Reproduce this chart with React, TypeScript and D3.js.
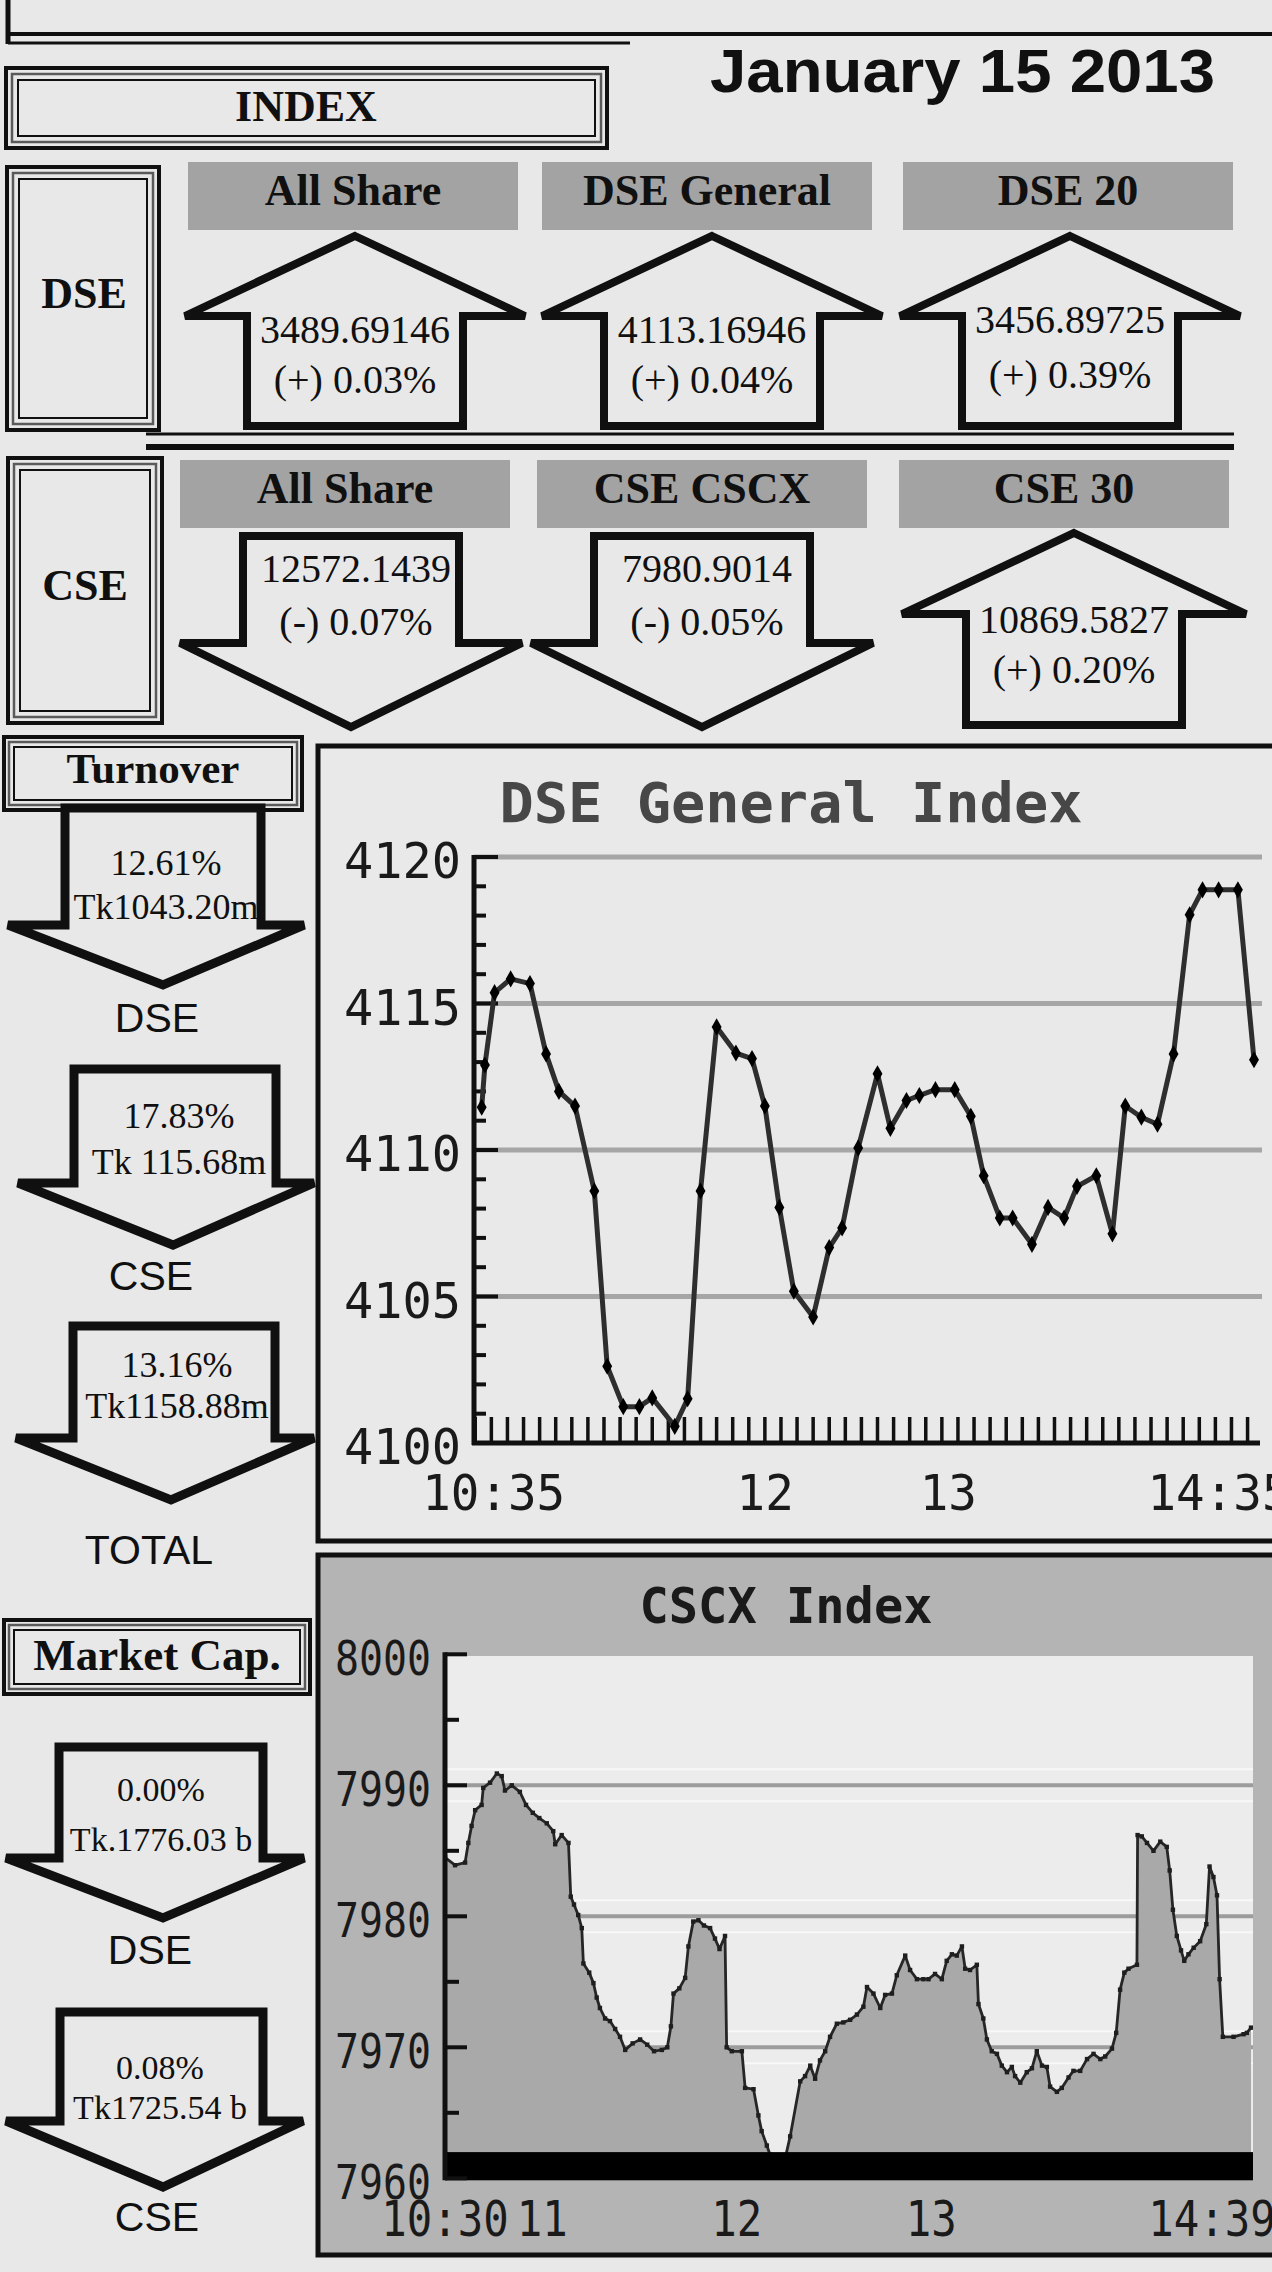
import React from "react";
import * as d3 from "d3";

const W = 1272;
const H = 2272;

// ---------------- data ----------------
const reportDate = "January 15 2013";

const dseIndexNames = ["All Share", "DSE General", "DSE 20"];
const dseIndexValues = ["3489.69146", "4113.16946", "3456.89725"];
const dseIndexChanges = ["(+) 0.03%", "(+) 0.04%", "(+) 0.39%"];
const dseIndexDirections = ["up", "up", "up"];

const cseIndexNames = ["All Share", "CSE CSCX", "CSE 30"];
const cseIndexValues = ["12572.1439", "7980.9014", "10869.5827"];
const cseIndexChanges = ["(-) 0.07%", "(-) 0.05%", "(+) 0.20%"];
const cseIndexDirections = ["down", "down", "up"];

const turnoverLabels = ["DSE", "CSE", "TOTAL"];
const turnoverPercents = ["12.61%", "17.83%", "13.16%"];
const turnoverAmounts = ["Tk1043.20m", "Tk 115.68m", "Tk1158.88m"];

const marketCapLabels = ["DSE", "CSE"];
const marketCapPercents = ["0.00%", "0.08%"];
const marketCapAmounts = ["Tk.1776.03 b", "Tk1725.54 b"];

// DSE General Index intraday (minutes since midnight, index value)
const dseTimes = [635, 636, 639, 644, 650, 655, 659, 664, 670, 674, 679, 684, 688, 695, 699, 703, 708, 714, 719, 723, 727.5, 732, 738, 743, 747, 752, 758, 762, 767, 771, 776, 782, 787, 791, 796, 800, 806, 811, 816, 820, 826, 831, 835, 840, 845, 850, 855, 859, 864, 870, 875];
const dseValues = [4111.46, 4112.9, 4115.37, 4115.84, 4115.68, 4113.28, 4112.0, 4111.5, 4108.6, 4102.62, 4101.24, 4101.24, 4101.54, 4100.57, 4101.51, 4108.6, 4114.2, 4113.31, 4113.12, 4111.5, 4108.04, 4105.18, 4104.3, 4106.67, 4107.34, 4110.07, 4112.6, 4110.74, 4111.69, 4111.86, 4112.06, 4112.06, 4111.15, 4109.12, 4107.68, 4107.68, 4106.78, 4108.04, 4107.68, 4108.76, 4109.12, 4107.14, 4111.5, 4111.12, 4110.88, 4113.28, 4118.03, 4118.88, 4118.88, 4118.88, 4113.08];
const dseYTicks = [4100, 4105, 4110, 4115, 4120];
const dseXTickTimes = [635, 720, 780, 875];
const dseXTickLabels = ["10:35", "12", "13", "14:35"];

// CSCX intraday (minutes after 10:30, index value)
const cscxMinutes = [0, 3.1, 6.2, 7.2, 8.2, 9.3, 11.3, 11.8, 13.9, 16.0, 17.5, 18.5, 20.6, 23.1, 25.0, 27.1, 29.1, 31.4, 33.4, 34.0, 36.0, 38.1, 38.8, 39.8, 41.1, 42.2, 42.7, 44.5, 45.8, 46.8, 47.8, 49.4, 50.9, 52.5, 54.0, 55.6, 57.9, 60.2, 62.4, 64.5, 66.9, 68.6, 69.7, 70.5, 72.3, 74.1, 75.1, 76.6, 78.2, 79.9, 81.8, 83.3, 84.7, 86.4, 86.9, 88.5, 91.6, 92.6, 95.2, 96.7, 97.7, 99.3, 100.3, 102.2, 104.3, 106.5, 109.6, 111.1, 112.7, 114.2, 115.7, 117.3, 118.8, 120.9, 122.9, 125.0, 127.1, 129.1, 130.2, 132.2, 134.3, 135.8, 137.9, 139.4, 142.0, 143.5, 145.6, 147.6, 149.2, 151.2, 153.3, 154.8, 156.4, 157.9, 159.5, 160.5, 162.0, 164.1, 164.6, 166.1, 167.2, 168.7, 170.3, 171.8, 173.4, 174.9, 175.9, 177.5, 179.5, 181.1, 182.6, 184.2, 185.7, 186.7, 188.8, 190.3, 192.4, 193.9, 196.0, 198.1, 200.1, 202.2, 203.7, 205.8, 207.1, 208.3, 209.6, 210.9, 213.5, 213.7, 215.0, 216.6, 218.6, 220.7, 222.7, 223.6, 224.6, 225.8, 227.1, 228.1, 229.4, 231.0, 233.0, 234.9, 235.9, 237.1, 238.2, 239.0, 240.0, 243.3, 246.4, 247.4, 248.7];
const cscxValues = [7984.5, 7983.9, 7984.1, 7985.6, 7986.9, 7988.1, 7988.5, 7989.8, 7990.2, 7990.9, 7990.7, 7989.6, 7990.0, 7989.5, 7988.5, 7987.9, 7987.5, 7987.1, 7986.5, 7985.5, 7986.2, 7985.6, 7981.5, 7980.9, 7980.1, 7979.1, 7976.4, 7975.7, 7974.9, 7973.8, 7973.0, 7972.2, 7972.0, 7971.4, 7970.8, 7969.8, 7970.3, 7970.6, 7970.2, 7969.7, 7969.8, 7970.0, 7971.6, 7974.1, 7974.5, 7975.3, 7977.7, 7979.6, 7979.7, 7979.3, 7979.1, 7978.3, 7977.5, 7978.5, 7970.0, 7969.7, 7969.7, 7966.9, 7966.8, 7964.8, 7963.6, 7962.5, 7961.8, 7960.6, 7960.8, 7963.2, 7967.4, 7967.8, 7968.6, 7967.6, 7969.0, 7969.7, 7970.8, 7971.8, 7971.9, 7972.1, 7972.5, 7973.1, 7974.6, 7974.1, 7973.0, 7974.0, 7974.1, 7975.5, 7977.0, 7975.9, 7975.2, 7975.2, 7975.2, 7975.6, 7975.2, 7976.6, 7977.1, 7977.0, 7977.7, 7976.0, 7975.9, 7976.3, 7973.3, 7972.2, 7970.6, 7969.7, 7969.5, 7968.6, 7968.1, 7968.5, 7967.8, 7967.3, 7968.1, 7968.4, 7969.7, 7968.6, 7968.5, 7967.0, 7966.6, 7966.9, 7967.7, 7968.2, 7968.2, 7969.1, 7969.5, 7969.1, 7969.3, 7969.9, 7971.1, 7974.4, 7975.7, 7976.0, 7976.3, 7986.2, 7986.1, 7985.6, 7985.0, 7985.7, 7985.3, 7983.5, 7980.5, 7978.5, 7977.4, 7976.6, 7977.1, 7977.6, 7978.1, 7979.4, 7983.8, 7983.0, 7981.6, 7975.2, 7970.8, 7970.8, 7971.0, 7971.1, 7971.5];
const cscxOpenMinute = 630;
const cscxYTicks = [7960, 7970, 7980, 7990, 8000];
const cscxXTickTimes = [630, 660, 720, 780, 879];
const cscxXTickLabels = ["10:30", "11", "12", "13", "14:39"];

// ---------------- styles ----------------
const SERIF = "'Liberation Serif', 'Times New Roman', serif";
const SANS = "'Liberation Sans', Arial, sans-serif";
const MONO = "'DejaVu Sans Mono', monospace";
const BG = "#e8e8e8";
const INK = "#101010";
const HEADER_GRAY = "#a3a3a3";

function TripleBox({ x, y, w, h, k = 1 }: any) {
  return (
    <g fill="none">
      <rect x={x} y={y} width={w} height={h} stroke={INK} strokeWidth={4} />
      <rect x={x + 5 * k} y={y + 5 * k} width={w - 10 * k} height={h - 10 * k} stroke="#5a5a5a" strokeWidth={2.5} />
      <rect x={x + 10 * k} y={y + 10 * k} width={w - 20 * k} height={h - 20 * k} stroke={INK} strokeWidth={2} />
    </g>
  );
}

const lineGen = d3.line();
function upArrow(cx: number, apexY: number, wingY: number, bottomY: number, sh: number, wh: number) {
  return (
    lineGen([
      [cx, apexY],
      [cx + wh, wingY],
      [cx + sh, wingY],
      [cx + sh, bottomY],
      [cx - sh, bottomY],
      [cx - sh, wingY],
      [cx - wh, wingY],
    ]) + "Z"
  );
}
function downArrow(sl: number, sr: number, top: number, headY: number, wl: number, wr: number, tipX: number, tipY: number) {
  return (
    lineGen([
      [sl, top],
      [sr, top],
      [sr, headY],
      [wr, headY],
      [tipX, tipY],
      [wl, headY],
      [sl, headY],
    ]) + "Z"
  );
}

// layout of the index arrows
const dseArrowCx = [355, 712, 1070];
const dseCellX = [188, 542, 903];
const cseArrowCx = [351, 702, 1074];
const cseCellX = [180, 537, 899];
const cellW = 330;

const turnoverGeom = [
  { sl: 65, sr: 261, top: 808, headY: 925, wl: 8, wr: 304, tipX: 163, tipY: 985, t1: 875, t2: 919, tx: 166, lx: 157, ly: 1032 },
  { sl: 74, sr: 276, top: 1069, headY: 1183, wl: 18, wr: 314, tipX: 173, tipY: 1245, t1: 1128, t2: 1174, tx: 179, lx: 151, ly: 1290 },
  { sl: 73, sr: 275, top: 1326, headY: 1438, wl: 16, wr: 314, tipX: 171, tipY: 1500, t1: 1377, t2: 1418, tx: 177, lx: 149, ly: 1564 },
];
const marketCapGeom = [
  { sl: 59, sr: 263, top: 1747, headY: 1858, wl: 6, wr: 304, tipX: 163, tipY: 1918, t1: 1801, t2: 1851, tx: 161, lx: 150, ly: 1964 },
  { sl: 60, sr: 263, top: 2012, headY: 2121, wl: 6, wr: 303, tipX: 163, tipY: 2187, t1: 2079, t2: 2119, tx: 160, lx: 157, ly: 2231 },
];

export default function App() {
  // DSE chart scales
  const dseX = d3.scaleLinear().domain([635, 875]).range([481.7, 1254]);
  const dseY = d3.scaleLinear().domain([4100, 4120]).range([1443, 857]);
  const dsePts = dseTimes.map((t, i) => [dseX(t), dseY(dseValues[i])] as [number, number]);
  const dsePath = d3.line()(dsePts) as string;
  const diamond = d3.symbol(d3.symbolDiamond, 85)() as string;
  const dseMinorY = d3.range(4100, 4121, 1);
  const dseMinorX = d3.range(633, 876, 5);
  const dseLabelDx = [12, 10, 0, -35];

  // CSCX chart scales
  const csX = d3.scaleLinear().domain([630, 879]).range([445, 1252]);
  const csY = d3.scaleLinear().domain([7960, 8000]).range([2178.3, 1654.3]);
  const csData = cscxMinutes.map((m, i) => ({ t: cscxOpenMinute + m, v: cscxValues[i] }));
  const csArea = d3
    .area<any>()
    .x((d) => csX(d.t))
    .y0(csY(7960))
    .y1((d) => csY(d.v))(csData) as string;
  const csLine = d3
    .line<any>()
    .x((d) => csX(d.t))
    .y((d) => csY(d.v))(csData) as string;
  const csMinorY = d3.range(7960, 8001, 5);
  const csLabelDx = [0, 0, 0, 0, -40];

  return (
    <svg
      width={W}
      height={H}
      viewBox={`0 0 ${W} ${H}`}
      style={{ position: "absolute", left: 0, top: 0, display: "block" }}
    >
      <rect x={0} y={0} width={W} height={H} fill={BG} />

      {/* top frame lines */}
      <line x1={8} y1={0} x2={8} y2={44} stroke={INK} strokeWidth={5} />
      <line x1={8} y1={34} x2={W} y2={34} stroke={INK} strokeWidth={4} />
      <line x1={8} y1={43} x2={630} y2={43} stroke={INK} strokeWidth={3} />

      <text x={710} y={92} fontFamily={SANS} fontWeight="bold" fontSize={62} fill={INK} textLength={505} lengthAdjust="spacingAndGlyphs">
        {reportDate}
      </text>

      {/* INDEX box */}
      <TripleBox x={6} y={68} w={601} h={80} k={1.2} />
      <text x={306} y={121} textAnchor="middle" fontFamily={SERIF} fontWeight="bold" fontSize={44} fill={INK}>INDEX</text>

      {/* DSE row */}
      <TripleBox x={7} y={167} w={152} h={263} k={1.2} />
      <text x={84} y={308} textAnchor="middle" fontFamily={SERIF} fontWeight="bold" fontSize={44} fill={INK}>DSE</text>
      {dseIndexNames.map((name, i) => (
        <g key={"dh" + i}>
          <rect x={dseCellX[i]} y={162} width={cellW} height={68} fill={HEADER_GRAY} />
          <text x={dseCellX[i] + cellW / 2} y={205} textAnchor="middle" fontFamily={SERIF} fontWeight="bold" fontSize={44} fill={INK}>{name}</text>
        </g>
      ))}
      {dseIndexValues.map((val, i) => {
        const cx = dseArrowCx[i];
        const up = dseIndexDirections[i] === "up";
        const l1 = i === 2 ? 333 : 343;
        const l2 = i === 2 ? 388 : 393;
        return (
          <g key={"da" + i}>
            <path
              d={up ? upArrow(cx, 236, 316, 426, 108, 170) : downArrow(cx - 108, cx + 108, 236, 346, cx - 170, cx + 170, cx, 426)}
              fill="none" stroke={INK} strokeWidth={8} strokeLinejoin="miter" strokeMiterlimit={2}
            />
            <text x={cx} y={l1} textAnchor="middle" fontFamily={SERIF} fontSize={40} fill={INK}>{val}</text>
            <text x={cx} y={l2} textAnchor="middle" fontFamily={SERIF} fontSize={40} fill={INK}>{dseIndexChanges[i]}</text>
          </g>
        );
      })}

      {/* separator */}
      <line x1={146} y1={434} x2={1234} y2={434} stroke={INK} strokeWidth={3} />
      <line x1={146} y1={447} x2={1234} y2={447} stroke={INK} strokeWidth={6} />

      {/* CSE row */}
      <TripleBox x={8} y={458} w={154} h={265} k={1.2} />
      <text x={85} y={600} textAnchor="middle" fontFamily={SERIF} fontWeight="bold" fontSize={44} fill={INK}>CSE</text>
      {cseIndexNames.map((name, i) => (
        <g key={"ch" + i}>
          <rect x={cseCellX[i]} y={460} width={cellW} height={68} fill={HEADER_GRAY} />
          <text x={cseCellX[i] + cellW / 2} y={503} textAnchor="middle" fontFamily={SERIF} fontWeight="bold" fontSize={44} fill={INK}>{name}</text>
        </g>
      ))}
      {cseIndexValues.map((val, i) => {
        const cx = cseArrowCx[i];
        const up = cseIndexDirections[i] === "up";
        const l1 = up ? 633 : 582;
        const l2 = up ? 683 : 635;
        return (
          <g key={"ca" + i}>
            <path
              d={up ? upArrow(cx, 533, 614, 725, 108, 172) : downArrow(cx - 108, cx + 108, 536, 643, cx - 171, cx + 171, cx, 727)}
              fill="none" stroke={INK} strokeWidth={8} strokeLinejoin="miter" strokeMiterlimit={2}
            />
            <text x={cx + (up ? 0 : 5)} y={l1} textAnchor="middle" fontFamily={SERIF} fontSize={40} fill={INK}>{val}</text>
            <text x={cx + (up ? 0 : 5)} y={l2} textAnchor="middle" fontFamily={SERIF} fontSize={40} fill={INK}>{cseIndexChanges[i]}</text>
          </g>
        );
      })}

      {/* Turnover */}
      <TripleBox x={4} y={737} w={298} h={73} />
      <text x={153} y={783} textAnchor="middle" fontFamily={SERIF} fontWeight="bold" fontSize={43} fill={INK}>Turnover</text>
      {turnoverLabels.map((lab, i) => {
        const g = turnoverGeom[i];
        return (
          <g key={"to" + i}>
            <path d={downArrow(g.sl, g.sr, g.top, g.headY, g.wl, g.wr, g.tipX, g.tipY)} fill="none" stroke={INK} strokeWidth={9} strokeLinejoin="miter" strokeMiterlimit={2} />
            <text x={g.tx} y={g.t1} textAnchor="middle" fontFamily={SERIF} fontSize={36} fill={INK}>{turnoverPercents[i]}</text>
            <text x={g.tx} y={g.t2} textAnchor="middle" fontFamily={SERIF} fontSize={36} fill={INK}>{turnoverAmounts[i]}</text>
            <text x={g.lx} y={g.ly} textAnchor="middle" fontFamily={SANS} fontSize={41} fill={INK}>{lab}</text>
          </g>
        );
      })}

      {/* Market Cap */}
      <TripleBox x={4} y={1620} w={306} h={74} />
      <text x={157} y={1670} textAnchor="middle" fontFamily={SERIF} fontWeight="bold" fontSize={45} fill={INK}>Market Cap.</text>
      {marketCapLabels.map((lab, i) => {
        const g = marketCapGeom[i];
        return (
          <g key={"mc" + i}>
            <path d={downArrow(g.sl, g.sr, g.top, g.headY, g.wl, g.wr, g.tipX, g.tipY)} fill="none" stroke={INK} strokeWidth={9} strokeLinejoin="miter" strokeMiterlimit={2} />
            <text x={g.tx} y={g.t1} textAnchor="middle" fontFamily={SERIF} fontSize={34} fill={INK}>{marketCapPercents[i]}</text>
            <text x={g.tx} y={g.t2} textAnchor="middle" fontFamily={SERIF} fontSize={34} fill={INK}>{marketCapAmounts[i]}</text>
            <text x={g.lx} y={g.ly} textAnchor="middle" fontFamily={SANS} fontSize={41} fill={INK}>{lab}</text>
          </g>
        );
      })}

      {/* ---------- DSE General Index panel ---------- */}
      <rect x={318} y={746} width={1000} height={795} fill="#e9e9e9" stroke={INK} strokeWidth={5} />
      <text x={791} y={822} textAnchor="middle" fontFamily={MONO} fontWeight="bold" fontSize={55} fill="#474747" textLength={583} lengthAdjust="spacingAndGlyphs">
        DSE General Index
      </text>
      {dseYTicks.filter((v) => v > 4100).map((v) => (
        <line key={"dg" + v} x1={dseX.range()[0] - 8} x2={1262} y1={dseY(v)} y2={dseY(v)} stroke="#a6a6a6" strokeWidth={5} />
      ))}
      {/* y axis */}
      <line x1={474} x2={474} y1={dseY(4120) - 2} y2={dseY(4100) + 2} stroke={INK} strokeWidth={5} />
      {dseMinorY.map((v) => (
        <line key={"dmy" + v} x1={474} x2={v % 5 === 0 ? 498 : 486} y1={dseY(v)} y2={dseY(v)} stroke={INK} strokeWidth={4} />
      ))}
      {/* x axis */}
      <line x1={472} x2={1260} y1={dseY(4100)} y2={dseY(4100)} stroke={INK} strokeWidth={5} />
      {dseMinorX.map((t) => (
        <line key={"dmx" + t} x1={dseX(t)} x2={dseX(t)} y1={dseY(4100)} y2={dseY(4100) - 26} stroke={INK} strokeWidth={3.5} />
      ))}
      <path d={dsePath} fill="none" stroke="#2e2e2e" strokeWidth={5} strokeLinejoin="round" />
      {dsePts.map((p, i) => (
        <path key={"dm" + i} d={diamond} transform={`translate(${p[0]},${p[1]})`} fill="#000" />
      ))}
      {dseYTicks.map((v) => (
        <text key={"dyl" + v} x={461} y={dseY(v) + 21} textAnchor="end" fontFamily={MONO} fontSize={50} fill="#1a1a1a" textLength={117} lengthAdjust="spacingAndGlyphs">
          {v}
        </text>
      ))}
      {dseXTickTimes.map((t, i) => (
        <text key={"dxl" + i} x={dseX(t) + dseLabelDx[i]} y={1510} textAnchor="middle" fontFamily={MONO} fontSize={50} fill="#1a1a1a" textLength={dseXTickLabels[i].length * 28.6} lengthAdjust="spacingAndGlyphs">
          {dseXTickLabels[i]}
        </text>
      ))}

      {/* ---------- CSCX panel ---------- */}
      <rect x={318} y={1555} width={1000} height={700} fill="#b4b4b4" stroke={INK} strokeWidth={5} />
      <text x={786} y={1623} textAnchor="middle" fontFamily={MONO} fontWeight="bold" fontSize={49} fill="#1a1a1a" textLength={293} lengthAdjust="spacingAndGlyphs">
        CSCX Index
      </text>
      <defs>
        <clipPath id="csclip">
          <rect x={447} y={1656} width={806} height={500} />
        </clipPath>
      </defs>
      <rect x={447} y={1656} width={806} height={500} fill="#ececec" />
      {cscxYTicks.filter((v) => v > 7960 && v < 8000).map((v) => (
        <g key={"cg" + v}>
          <line x1={447} x2={1253} y1={csY(v) - 16} y2={csY(v) - 16} stroke="#f8f8f8" strokeWidth={2} />
          <line x1={447} x2={1253} y1={csY(v) + 16} y2={csY(v) + 16} stroke="#f8f8f8" strokeWidth={2} />
          <line x1={447} x2={1253} y1={csY(v)} y2={csY(v)} stroke="#9c9c9c" strokeWidth={4} />
        </g>
      ))}
      <g clipPath="url(#csclip)">
        <path d={csArea} fill="#a9a9a9" />
        <path d={csLine} fill="none" stroke="#262626" strokeWidth={2.8} strokeLinejoin="round" />
        {csData.map((d, i) => (
          <rect key={"cm" + i} x={csX(d.t) - 2.2} y={csY(d.v) - 2.2} width={4.4} height={4.4} fill="#1e1e1e" />
        ))}
      </g>
      <rect x={445} y={csY(7962)} width={808} height={csY(7960) - csY(7962) + 2} fill="#000" />
      <line x1={445} x2={445} y1={csY(8000) - 2} y2={csY(7960) + 2} stroke={INK} strokeWidth={5} />
      {csMinorY.map((v) => (
        <line key={"cmy" + v} x1={445} x2={v % 10 === 0 ? 467 : 459} y1={csY(v)} y2={csY(v)} stroke={INK} strokeWidth={4} />
      ))}
      {cscxYTicks.map((v) => (
        <text key={"cyl" + v} x={431} y={csY(v) + 21} textAnchor="end" fontFamily={MONO} fontSize={48} fill="#1a1a1a" textLength={96} lengthAdjust="spacingAndGlyphs">
          {v}
        </text>
      ))}
      {cscxXTickTimes.map((t, i) => (
        <text key={"cxl" + i} x={csX(t) + csLabelDx[i]} y={2236} textAnchor="middle" fontFamily={MONO} fontSize={49} fill="#1a1a1a" textLength={cscxXTickLabels[i].length * 25.5} lengthAdjust="spacingAndGlyphs">
          {cscxXTickLabels[i]}
        </text>
      ))}
    </svg>
  );
}
